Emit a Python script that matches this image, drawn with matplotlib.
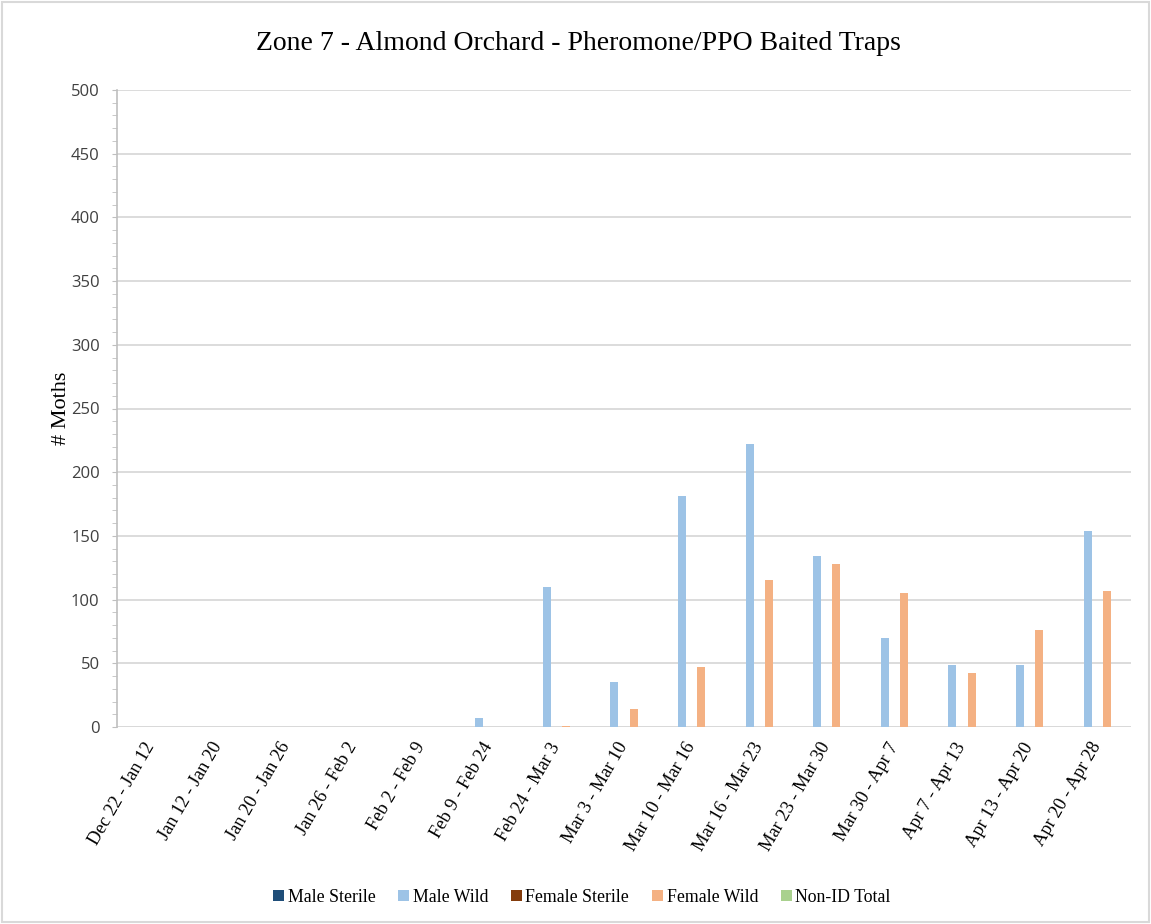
#!/usr/bin/env python3
"""Zone 7 almond orchard trap counts, grouped bars by moth type."""

import numpy as np
import matplotlib

matplotlib.use("Agg")
import matplotlib.pyplot as plt  # noqa: E402
from matplotlib.patches import Rectangle  # noqa: E402
from matplotlib.ticker import MultipleLocator  # noqa: E402

WEEKS = [
    "Dec 22 - Jan 12", "Jan 12 - Jan 20", "Jan 20 - Jan 26", "Jan 26 - Feb 2",
    "Feb 2 - Feb 9", "Feb 9 - Feb 24", "Feb 24 - Mar 3", "Mar 3 - Mar 10",
    "Mar 10 - Mar 16", "Mar 16 - Mar 23", "Mar 23 - Mar 30", "Mar 30 - Apr 7",
    "Apr 7 - Apr 13", "Apr 13 - Apr 20", "Apr 20 - Apr 28",
]
SERIES = ["Male Sterile", "Male Wild", "Female Sterile", "Female Wild", "Non-ID Total"]
MALE_STERILE = [0] * 15
MALE_WILD = [0, 0, 0, 0, 0, 7, 110, 35, 181, 222, 134, 70, 49, 49, 154]
FEMALE_STERILE = [0] * 15
FEMALE_WILD = [0, 0, 0, 0, 0, 0, 1, 14, 47, 115, 128, 105, 42, 76, 107]
NON_ID = [0] * 15
COLORS = ["#1F4E79", "#9DC3E6", "#843C0C", "#F4B183", "#A9D18E"]

SERIF = ["Liberation Serif", "DejaVu Serif"]


def main() -> int:
    fig = plt.figure(figsize=(11.51, 9.24), dpi=100)
    ax = fig.add_axes([117 / 1151, 1 - 727 / 924, (1131 - 117) / 1151, (727 - 90) / 924])

    values = [MALE_STERILE, MALE_WILD, FEMALE_STERILE, FEMALE_WILD, NON_ID]
    x = np.arange(len(WEEKS))
    slot = 0.143
    width = 0.118
    for i, (name, vals, color) in enumerate(zip(SERIES, values, COLORS)):
        ax.bar(x + (i - 2) * slot + 0.5, vals, width=width, color=color,
               label=name, zorder=3)

    ax.set_xlim(0, len(WEEKS))
    ax.set_ylim(0, 500)
    ax.yaxis.set_major_locator(MultipleLocator(50))
    ax.yaxis.set_minor_locator(MultipleLocator(10))
    ax.grid(axis="y", color="#D9D9D9", linewidth=1.3, zorder=0)
    for side in ("top", "right", "bottom"):
        ax.spines[side].set_visible(False)
    ax.spines["left"].set_color("#BFBFBF")
    ax.spines["left"].set_linewidth(1.2)
    ax.axhline(0, color="#D9D9D9", linewidth=2, zorder=2)

    ax.tick_params(axis="y", which="major", length=3.5, color="#BFBFBF",
                   labelsize=12, labelcolor="#404040", pad=9)
    ax.tick_params(axis="y", which="minor", length=3.5, color="#BFBFBF")
    for lab in ax.get_yticklabels():
        lab.set_family(["Open Sans", "DejaVu Sans"])

    ax.set_xticks(x + 0.5)
    ax.set_xticklabels(WEEKS, rotation=60, ha="right", va="center",
                       rotation_mode="anchor", family=SERIF, fontsize=13.2)
    ax.tick_params(axis="x", length=0, pad=12)

    ax.set_ylabel("# Moths", family=SERIF, fontsize=16, labelpad=0)
    fig.text(0.5 + 3 / 1151, 1 - 43 / 924, "Zone 7 - Almond Orchard - Pheromone/PPO Baited Traps",
             ha="center", va="center", family=SERIF, fontsize=20)

    fig.legend(loc="center", bbox_to_anchor=(582 / 1151, 1 - 897 / 924), ncol=5,
               frameon=False, prop={"family": SERIF, "size": 12.8},
               handlelength=0.6, handleheight=0.6, handletextpad=0.2,
               columnspacing=1.3)

    fig.patches.append(Rectangle((0.002, 0.002), 0.996, 0.996, transform=fig.transFigure,
                                 fill=False, edgecolor="#D9D9D9", linewidth=1.5))

    fig.savefig("out.png", dpi=100)
    return 0


if __name__ == "__main__":
    raise SystemExit(main())
